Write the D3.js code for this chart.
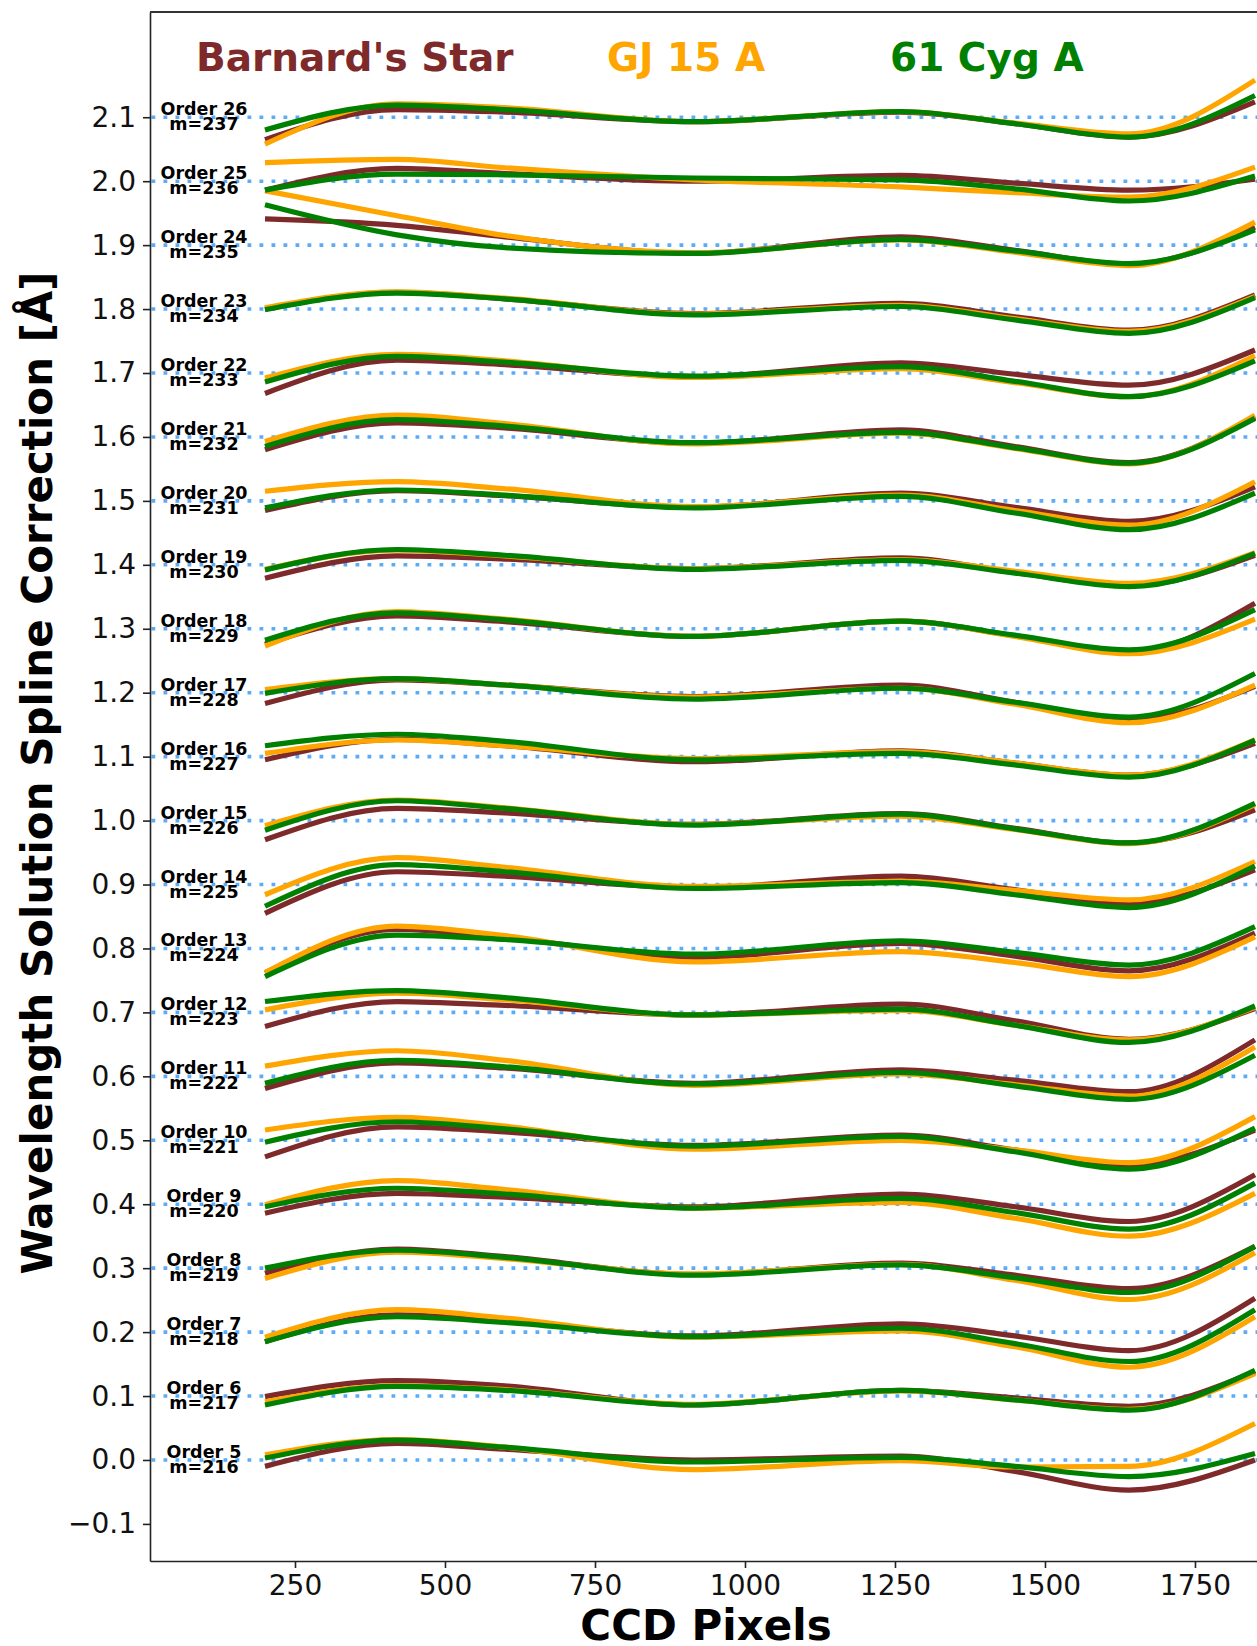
<!DOCTYPE html>
<html><head><meta charset="utf-8">
<script src="https://cdn.jsdelivr.net/npm/d3@7"></script>
<style>
body{margin:0;background:#fff}
svg{display:block}
text{font-family:"DejaVu Sans",sans-serif}
</style>
</head><body>
<svg id="chart" width="1257" height="1646"></svg>
<script>
// ---------------- data ----------------
const pixelKnots = [200, 420, 600, 915, 1260, 1450, 1640, 1850];
const orderNumbers = [5,6,7,8,9,10,11,12,13,14,15,16,17,18,19,20,21,22,23,24,25,26];
const echelleM = [216,217,218,219,220,221,222,223,224,225,226,227,228,229,230,231,232,233,234,235,236,237];
const orderOffsets = [0.0,0.1,0.2,0.3,0.4,0.5,0.6,0.7,0.8,0.9,1.0,1.1,1.2,1.3,1.4,1.5,1.6,1.7,1.8,1.9,2.0,2.1];
const yTickValues = [-0.1,0.0,0.1,0.2,0.3,0.4,0.5,0.6,0.7,0.8,0.9,1.0,1.1,1.2,1.3,1.4,1.5,1.6,1.7,1.8,1.9,2.0,2.1];
const xTickValues = [250,500,750,1000,1250,1500,1750];
const seriesNames = ["Barnard's Star", "GJ 15 A", "61 Cyg A"];
const seriesColors = ["#7e2a2a", "#ffa500", "#008000"];

// spline correction (Å) relative to each order's offset, at pixelKnots
const barnardStar = [
  [-0.010, 0.026, 0.017, 0.000, 0.006, -0.018, -0.047, 0.000],
  [-0.001, 0.024, 0.016, -0.014, 0.009, -0.003, -0.016, 0.038],
  [-0.015, 0.027, 0.017, -0.006, 0.013, -0.006, -0.029, 0.053],
  [-0.008, 0.030, 0.018, -0.010, 0.008, -0.011, -0.032, 0.034],
  [-0.014, 0.017, 0.011, -0.004, 0.016, -0.004, -0.027, 0.046],
  [-0.026, 0.021, 0.013, -0.008, 0.008, -0.015, -0.039, 0.016],
  [-0.019, 0.021, 0.013, -0.011, 0.010, -0.006, -0.024, 0.057],
  [-0.022, 0.017, 0.011, -0.004, 0.013, -0.013, -0.042, 0.006],
  [-0.038, 0.030, 0.017, -0.014, 0.008, -0.012, -0.035, 0.024],
  [-0.045, 0.020, 0.013, -0.005, 0.013, -0.008, -0.030, 0.023],
  [-0.030, 0.019, 0.012, -0.006, 0.011, -0.012, -0.035, 0.017],
  [-0.005, 0.027, 0.017, -0.008, 0.009, -0.010, -0.029, 0.021],
  [-0.017, 0.020, 0.012, -0.006, 0.012, -0.015, -0.043, 0.010],
  [-0.024, 0.020, 0.011, -0.012, 0.012, -0.011, -0.036, 0.040],
  [-0.021, 0.014, 0.009, -0.006, 0.011, -0.012, -0.033, 0.015],
  [-0.015, 0.016, 0.008, -0.010, 0.012, -0.010, -0.032, 0.022],
  [-0.020, 0.022, 0.014, -0.010, 0.011, -0.015, -0.040, 0.031],
  [-0.032, 0.020, 0.013, -0.006, 0.016, -0.002, -0.019, 0.036],
  [0.000, 0.026, 0.016, -0.007, 0.009, -0.012, -0.033, 0.022],
  [0.041, 0.031, 0.013, -0.013, 0.013, -0.008, -0.030, 0.028],
  [-0.014, 0.020, 0.012, 0.000, 0.009, -0.003, -0.014, 0.003],
  [-0.035, 0.012, 0.008, -0.007, 0.008, -0.010, -0.031, 0.024]
];
const gj15A = [
  [0.008, 0.032, 0.020, -0.015, -0.001, -0.011, -0.010, 0.057],
  [-0.009, 0.016, 0.010, -0.013, 0.008, -0.006, -0.021, 0.035],
  [-0.008, 0.035, 0.022, -0.008, 0.002, -0.023, -0.055, 0.024],
  [-0.016, 0.025, 0.015, -0.009, 0.006, -0.019, -0.049, 0.024],
  [-0.001, 0.037, 0.023, -0.006, 0.003, -0.022, -0.050, 0.017],
  [0.016, 0.036, 0.022, -0.014, 0.000, -0.015, -0.035, 0.037],
  [0.016, 0.040, 0.025, -0.014, 0.004, -0.013, -0.031, 0.046],
  [0.004, 0.030, 0.020, -0.004, 0.003, -0.020, -0.043, 0.008],
  [-0.038, 0.035, 0.020, -0.021, -0.005, -0.022, -0.044, 0.018],
  [-0.016, 0.042, 0.027, -0.003, 0.005, -0.009, -0.024, 0.036],
  [-0.008, 0.032, 0.020, -0.006, 0.007, -0.014, -0.036, 0.025],
  [0.005, 0.026, 0.017, -0.003, 0.008, -0.010, -0.029, 0.026],
  [0.005, 0.022, 0.012, -0.007, 0.007, -0.018, -0.047, 0.012],
  [-0.027, 0.027, 0.015, -0.012, 0.012, -0.012, -0.039, 0.015],
  [-0.007, 0.023, 0.014, -0.006, 0.008, -0.010, -0.029, 0.019],
  [0.015, 0.030, 0.019, -0.009, 0.009, -0.015, -0.038, 0.030],
  [-0.007, 0.034, 0.021, -0.011, 0.006, -0.018, -0.042, 0.034],
  [-0.008, 0.029, 0.019, -0.007, 0.007, -0.015, -0.037, 0.027],
  [0.002, 0.027, 0.017, -0.008, 0.006, -0.015, -0.035, 0.020],
  [0.085, 0.046, 0.015, -0.012, 0.008, -0.011, -0.032, 0.036],
  [0.029, 0.034, 0.021, 0.002, -0.009, -0.018, -0.025, 0.022],
  [-0.042, 0.021, 0.015, -0.007, 0.009, -0.009, -0.026, 0.058]
];
const cyg61A = [
  [0.003, 0.031, 0.020, -0.003, 0.004, -0.010, -0.026, 0.010],
  [-0.014, 0.015, 0.009, -0.014, 0.009, -0.006, -0.022, 0.040],
  [-0.015, 0.024, 0.015, -0.007, 0.006, -0.018, -0.046, 0.035],
  [0.000, 0.028, 0.017, -0.011, 0.005, -0.015, -0.038, 0.034],
  [-0.004, 0.025, 0.016, -0.006, 0.009, -0.013, -0.039, 0.033],
  [-0.003, 0.029, 0.018, -0.009, 0.006, -0.018, -0.045, 0.019],
  [-0.011, 0.025, 0.015, -0.012, 0.006, -0.015, -0.036, 0.033],
  [0.017, 0.034, 0.023, -0.004, 0.005, -0.020, -0.047, 0.010],
  [-0.044, 0.021, 0.014, -0.009, 0.012, -0.006, -0.026, 0.034],
  [-0.034, 0.031, 0.020, -0.006, 0.003, -0.016, -0.036, 0.029],
  [-0.015, 0.031, 0.019, -0.007, 0.010, -0.013, -0.035, 0.027],
  [0.017, 0.035, 0.024, -0.005, 0.005, -0.013, -0.032, 0.026],
  [-0.001, 0.022, 0.012, -0.010, 0.007, -0.015, -0.038, 0.030],
  [-0.018, 0.025, 0.014, -0.012, 0.012, -0.010, -0.033, 0.030],
  [-0.008, 0.024, 0.015, -0.007, 0.007, -0.013, -0.034, 0.018],
  [-0.011, 0.017, 0.009, -0.011, 0.007, -0.019, -0.045, 0.012],
  [-0.015, 0.027, 0.017, -0.009, 0.007, -0.017, -0.041, 0.029],
  [-0.014, 0.026, 0.017, -0.005, 0.010, -0.013, -0.037, 0.019],
  [-0.001, 0.025, 0.016, -0.009, 0.004, -0.017, -0.038, 0.018],
  [0.063, 0.016, -0.004, -0.013, 0.009, -0.009, -0.029, 0.024],
  [-0.014, 0.011, 0.010, 0.005, 0.002, -0.012, -0.031, 0.008],
  [-0.020, 0.019, 0.012, -0.007, 0.009, -0.010, -0.031, 0.034]
];
const allSeries = [barnardStar, gj15A, cyg61A];

// ---------------- drawing ----------------
const svg = d3.select("#chart");
const L = 150, T = 12, R = 1262, B = 1561;
const x = d3.scaleLinear().domain([8.33, 1861.7]).range([L, R]);
const y = d3.scaleLinear().domain([-0.158, 2.2646]).range([B, T]);

svg.append("rect").attr("width", 1257).attr("height", 1646).attr("fill", "#fff");

svg.append("defs").append("clipPath").attr("id", "plotclip")
  .append("rect").attr("x", L).attr("y", T).attr("width", R - L).attr("height", B - T);

const plot = svg.append("g").attr("clip-path", "url(#plotclip)");

// dotted reference lines
plot.selectAll("line.ref").data(orderOffsets).enter().append("line")
  .attr("class", "ref")
  .attr("x1", L + 1.5).attr("x2", R)
  .attr("y1", d => y(d)).attr("y2", d => y(d))
  .attr("stroke", "#5eabf5").attr("stroke-width", 3.6)
  .attr("stroke-dasharray", "3.8 8.2");

// curves
const line = d3.line()
  .x(d => x(d[0]))
  .y(d => y(d[1]))
  .curve(d3.curveMonotoneX);

allSeries.forEach((series, si) => {
  series.forEach((vals, oi) => {
    const pts = pixelKnots.map((px, k) => [px, orderOffsets[oi] + vals[k]]);
    plot.append("path")
      .attr("d", line(pts))
      .attr("fill", "none")
      .attr("stroke", seriesColors[si])
      .attr("stroke-width", 5.2)
      .attr("stroke-linecap", "butt");
  });
});

// order labels
const labels = svg.append("g");
orderNumbers.forEach((o, i) => {
  const yy = y(orderOffsets[i]);
  labels.append("text").attr("x", 204).attr("y", yy - 2)
    .attr("text-anchor", "middle").attr("font-weight", "bold").attr("font-size", 17.5)
    .text("Order " + o);
  labels.append("text").attr("x", 204).attr("y", yy + 13)
    .attr("text-anchor", "middle").attr("font-weight", "bold").attr("font-size", 17.5)
    .text("m=" + echelleM[i]);
});

// axes
const yAxis = d3.axisLeft(y).tickValues(yTickValues)
  .tickFormat(d3.format(".1f")).tickSize(7).tickSizeOuter(0).tickPadding(7);
const gy = svg.append("g").attr("transform", `translate(${L},0)`).call(yAxis);

const xAxis = d3.axisBottom(x).tickValues(xTickValues)
  .tickFormat(d3.format("d")).tickSize(7).tickSizeOuter(0).tickPadding(7);
const gx = svg.append("g").attr("transform", `translate(0,${B})`).call(xAxis);

[gx, gy].forEach(g => {
  g.select(".domain").attr("stroke", "#222").attr("stroke-width", 1.6);
  g.selectAll(".tick line").attr("stroke", "#222").attr("stroke-width", 1.6);
  g.selectAll(".tick text").attr("font-size", 28).attr("fill", "#111")
    .attr("font-family", "DejaVu Sans");
});

// top spine
svg.append("line").attr("x1", L).attr("x2", R).attr("y1", T).attr("y2", T)
  .attr("stroke", "#333").attr("stroke-width", 1.8);

// legend texts
const legendX = [196, 607, 890];
seriesNames.forEach((n, i) => {
  svg.append("text").attr("x", legendX[i]).attr("y", 71)
    .attr("font-weight", "bold").attr("font-size", 39)
    .attr("fill", seriesColors[i]).text(n);
});

// axis titles
svg.append("text").attr("x", 706).attr("y", 1640)
  .attr("text-anchor", "middle").attr("font-weight", "bold").attr("font-size", 42)
  .text("CCD Pixels");
svg.append("text")
  .attr("transform", "translate(52,773) rotate(-90)")
  .attr("text-anchor", "middle").attr("font-weight", "bold").attr("font-size", 42)
  .text("Wavelength Solution Spline Correction [Å]");
</script>
</body></html>
